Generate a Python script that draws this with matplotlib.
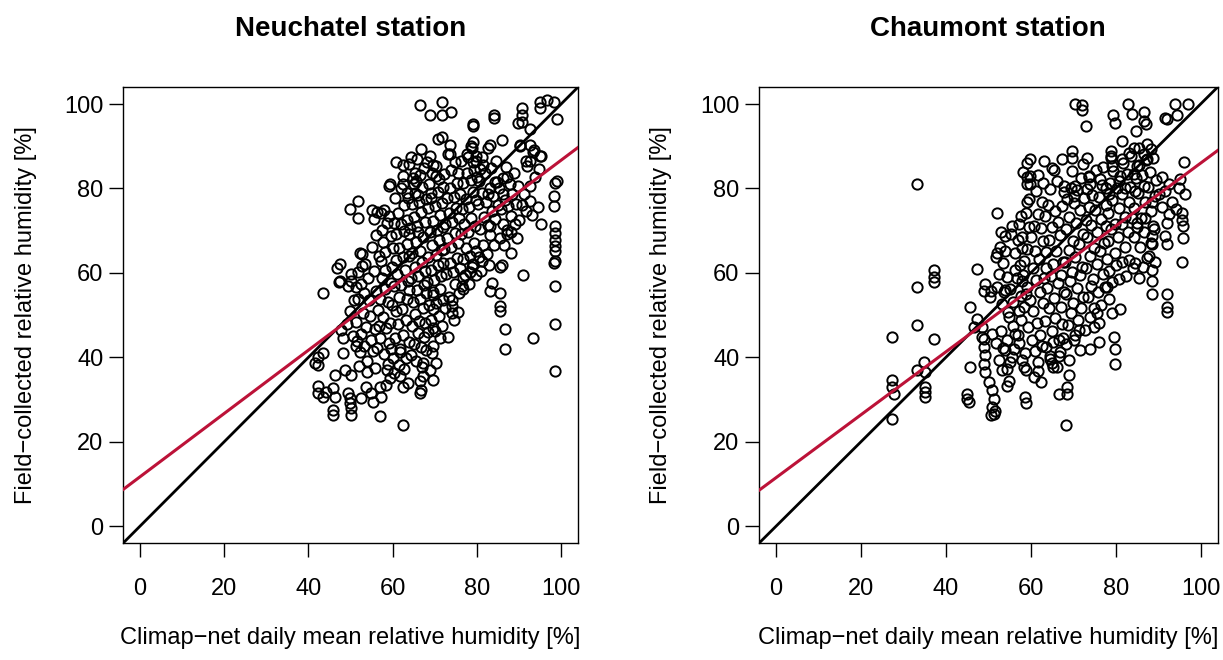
import matplotlib
matplotlib.use("Agg")
import matplotlib.pyplot as plt

plt.rcParams['font.family'] = ['Liberation Sans', 'DejaVu Sans']

# Neuchatel station: (Climap-net daily mean RH, field-collected RH)
neu_points = [
    (66.6, 99.8), (71.6, 100.5), (68.8, 97.5), (71.6, 97.3), (73.8, 98.2), (84.0, 97.4), (84.0, 96.6),
    (79.1, 95.3), (90.6, 99.0), (90.6, 97.3), (90.6, 95.7), (95.0, 100.5), (96.6, 100.9), (98.2, 100.5),
    (95.0, 99.0), (99.0, 96.5), (92.6, 94.0), (79.0, 94.7), (89.7, 95.5),
    (71.6, 92.1), (73.6, 90.2), (73.6, 88.2), (79.1, 91.0), (83.1, 90.2), (85.9, 91.4), (79.9, 87.8),
    (79.1, 86.2), (81.1, 87.4), (90.2, 90.2), (92.6, 90.2), (93.4, 88.6), (95.0, 87.8), (92.6, 86.6),
    (91.8, 85.4), (70.8, 91.7), (66.8, 89.4), (68.8, 87.8), (64.4, 87.4), (60.9, 86.2), (62.5, 85.5),
    (64.0, 85.8), (67.5, 84.8), (69.5, 85.5), (70.4, 83.0), (62.4, 83.0), (65.5, 81.8), (59.3, 81.1),
    (62.4, 81.0), (63.5, 79.0), (66.0, 78.5), (69.0, 79.0), (51.7, 77.1), (49.8, 75.1), (51.7, 73.1),
    (55.0, 75.0), (57.9, 75.0), (59.1, 80.6), (65.0, 81.1), (65.4, 83.6),
    (82.6, 78.6), (84.4, 81.6), (87.1, 82.6), (86.2, 78.6), (80.8, 84.6), (79.9, 86.6), (77.6, 88.1),
    (78.5, 90.0), (82.6, 89.6),
    (94.8, 84.6), (93.9, 82.6), (92.6, 80.6), (91.2, 78.6), (92.6, 77.1), (90.8, 76.1), (94.4, 75.6),
    (93.0, 73.6), (91.7, 74.6), (89.9, 72.6), (95.3, 71.6), (88.0, 69.7), (87.1, 70.1), (83.1, 71.1),
    (90.3, 90.0), (93.5, 89.0), (91.7, 86.6), (95.3, 87.6),
    (99.0, 81.8), (98.5, 81.2), (98.2, 78.3), (98.2, 75.8), (98.6, 71.1), (98.6, 69.5), (98.6, 67.9),
    (98.6, 66.4), (98.6, 65.2), (98.6, 62.9), (98.2, 62.3), (98.6, 56.9), (98.6, 47.8), (98.6, 36.7),
    (91.0, 59.5), (93.3, 44.6), (85.9, 61.8), (85.5, 61.3), (83.5, 57.7), (83.1, 55.7), (85.5, 55.3),
    (85.5, 52.1), (85.5, 51.0), (86.7, 46.8), (86.7, 42.0), (81.1, 62.9), (79.1, 62.1), (78.3, 60.1),
    (76.7, 58.9), (76.7, 56.1), (74.0, 53.7), (74.0, 50.6), (71.2, 44.6), (73.2, 44.9), (69.6, 47.0),
    (69.6, 42.6), (69.4, 41.0), (69.6, 51.4), (69.6, 55.4),
    (47.4, 62.1), (43.4, 55.3), (47.4, 58.1), (50.2, 59.7), (51.7, 60.1), (49.4, 56.9), (52.5, 57.3),
    (53.3, 55.3), (49.8, 51.0), (47.8, 46.6), (48.2, 44.6), (42.2, 40.2), (43.4, 41.0), (41.6, 38.7),
    (42.4, 38.3), (48.2, 41.0), (46.2, 35.9), (48.6, 37.1), (50.2, 35.9), (52.1, 37.9), (42.2, 33.2),
    (42.2, 31.5), (44.2, 31.9), (43.4, 30.7), (45.8, 32.7), (46.2, 30.7), (49.4, 31.5), (49.8, 30.3),
    (49.8, 29.1), (50.2, 28.0), (45.8, 27.5), (45.8, 26.4), (50.2, 26.4), (52.5, 30.3), (54.9, 31.5),
    (55.3, 29.5), (53.7, 33.1), (56.9, 26.0), (62.4, 24.0), (57.3, 30.7), (56.9, 33.1), (58.5, 33.5),
    (59.3, 35.1), (61.7, 35.5), (62.4, 33.1), (63.6, 33.9), (66.4, 34.3), (66.8, 32.3), (66.4, 31.5),
    (67.2, 35.5), (68.8, 37.1), (69.6, 34.7), (70.4, 38.7),
    (46.8, 61.2), (47.3, 57.9), (52.3, 64.7), (52.7, 61.7), (50.0, 58.2), (51.4, 56.7), (50.5, 45.0),
    (51.4, 42.8), (49.2, 48.0), (50.8, 53.5),
    # dense core
    (52.8, 64.5), (53.5, 62.0), (54.2, 58.8), (52.9, 50.5), (53.6, 47.2), (54.8, 44.2), (55.3, 41.5),
    (53.2, 42.8), (54.5, 53.6), (55.6, 60.5), (55.1, 66.2), (56.0, 68.9), (55.5, 72.8), (56.2, 74.4),
    (54.0, 39.2), (55.8, 37.6), (53.9, 36.5), (52.4, 45.5), (51.5, 43.8), (51.2, 48.3), (51.8, 53.8),
    (52.2, 41.2), (54.7, 49.9), (55.9, 46.8), (56.1, 55.7), (56.6, 51.3), (57.2, 62.8), (57.0, 44.5),
    (57.5, 70.1), (57.8, 67.4), (58.2, 64.9), (58.6, 71.8), (59.1, 73.5), (57.4, 58.9), (58.1, 56.2),
    (58.9, 53.1), (57.7, 49.6), (58.4, 46.9), (59.2, 43.3), (57.9, 40.8), (58.8, 38.5), (59.6, 41.9),
    (59.4, 48.2), (59.8, 52.5), (59.5, 57.6), (59.9, 61.4), (60.2, 65.8), (59.7, 68.7), (58.3, 60.8),
    (57.1, 53.9), (56.8, 47.5), (58.6, 36.9), (60.3, 36.2), (60.1, 39.8), (56.4, 42.2), (56.7, 64.1),
    (57.3, 74.2),
    (60.6, 44.6), (61.2, 47.8), (61.8, 42.1), (62.5, 45.3), (63.1, 48.9), (60.8, 50.9), (61.5, 54.2),
    (62.2, 51.4), (63.4, 53.8), (60.4, 56.8), (61.1, 59.7), (62.0, 57.2), (62.9, 60.6), (63.6, 58.1),
    (60.7, 63.1), (61.6, 65.9), (62.4, 63.7), (63.3, 66.8), (63.9, 64.1), (60.9, 69.2), (61.9, 71.5),
    (62.7, 69.9), (63.5, 72.6), (61.3, 74.3), (62.8, 76.1), (63.7, 77.8), (60.5, 77.7), (62.1, 80.2),
    (61.4, 38.1), (63.2, 39.9), (62.6, 37.2), (63.8, 43.7), (61.7, 41.3), (64.0, 56.0), (63.9, 69.3),
    (60.3, 71.9),
    (64.3, 40.5), (65.1, 43.2), (66.0, 45.7), (66.8, 42.4), (67.5, 44.9), (64.6, 47.5), (65.4, 50.3),
    (66.3, 48.6), (67.1, 51.7), (67.8, 48.1), (64.9, 53.2), (65.7, 55.9), (66.6, 53.9), (67.4, 57.1),
    (64.4, 58.8), (65.2, 61.5), (66.1, 59.3), (66.9, 62.7), (67.7, 60.4), (64.7, 64.6), (65.6, 67.3),
    (66.4, 65.1), (67.2, 68.6), (64.2, 70.7), (65.0, 73.2), (65.9, 71.1), (66.7, 74.4), (67.6, 72.0),
    (64.5, 76.3), (65.3, 78.9), (66.2, 76.9), (67.0, 80.3), (67.9, 77.5), (64.8, 82.4), (66.5, 83.1),
    (65.8, 86.9), (66.9, 37.7), (65.5, 39.1), (67.3, 38.6), (68.0, 41.8), (67.9, 55.2), (66.0, 69.7),
    (68.4, 45.9), (69.2, 48.8), (70.1, 46.2), (70.9, 49.9), (71.7, 47.4), (68.7, 52.4), (69.5, 54.8),
    (70.4, 52.9), (71.2, 56.3), (71.9, 53.6), (68.2, 57.9), (69.0, 60.6), (69.9, 58.4), (70.7, 61.9),
    (71.5, 59.2), (68.5, 63.7), (69.3, 66.5), (70.2, 64.3), (71.0, 67.7), (71.8, 65.4), (68.8, 69.6),
    (69.7, 72.4), (70.5, 70.2), (71.3, 73.7), (68.3, 75.4), (69.1, 77.8), (70.0, 75.9), (70.8, 79.2),
    (71.6, 76.6), (68.6, 81.1), (69.4, 83.6), (71.1, 82.2), (70.3, 85.4), (71.9, 80.3), (68.1, 86.3),
    (72.0, 62.3), (72.0, 70.9),
    (72.4, 51.7), (73.3, 54.4), (74.1, 52.1), (74.9, 57.3), (75.7, 55.2), (72.7, 59.8), (73.5, 62.4),
    (74.4, 60.2), (75.2, 63.6), (75.9, 61.1), (72.2, 65.7), (73.0, 68.3), (73.8, 66.1), (74.7, 69.4),
    (75.5, 67.2), (72.5, 71.6), (73.4, 74.2), (74.2, 72.0), (75.0, 75.4), (75.8, 73.1), (72.8, 77.7),
    (73.6, 80.1), (74.5, 78.0), (75.3, 81.3), (72.3, 83.5), (73.9, 84.4), (74.8, 86.2), (75.6, 83.7),
    (73.1, 88.1), (76.0, 78.8), (74.6, 48.9), (75.4, 50.8),
    (76.4, 56.8), (77.2, 59.5), (78.1, 57.4), (78.9, 61.3), (79.7, 59.6), (76.7, 63.2), (77.5, 65.8),
    (78.4, 63.9), (79.2, 67.2), (79.9, 65.1), (76.2, 69.1), (77.0, 71.7), (77.9, 69.8), (78.7, 73.1),
    (79.5, 71.2), (76.5, 75.2), (77.3, 77.6), (78.2, 75.7), (79.0, 79.1), (79.8, 77.3), (76.8, 81.2),
    (77.7, 83.6), (78.5, 81.9), (79.4, 84.3), (76.3, 86.4), (77.8, 87.5), (78.8, 89.7), (80.0, 82.8),
    (80.5, 63.8), (81.4, 66.7), (82.3, 64.4), (83.2, 68.9), (84.1, 66.5), (80.8, 70.5), (81.7, 73.2),
    (82.6, 71.3), (83.5, 74.6), (84.4, 72.8), (80.3, 76.4), (81.2, 78.9), (82.1, 76.8), (83.0, 80.1),
    (83.9, 78.3), (84.8, 81.5), (80.6, 81.8), (81.9, 83.7), (83.4, 84.9), (84.6, 86.5), (80.9, 60.4),
    (82.8, 61.9), (84.9, 76.2), (81.5, 85.6),
    (85.4, 68.2), (86.3, 71.5), (87.2, 69.1), (88.1, 73.4), (89.0, 71.7), (85.7, 75.1), (86.6, 77.3),
    (87.5, 75.8), (88.4, 78.7), (89.3, 76.4), (85.2, 80.2), (86.1, 82.4), (87.9, 81.1), (88.8, 83.6),
    (89.7, 80.7), (86.9, 85.2), (88.2, 64.8), (86.4, 66.7), (89.5, 68.3),
]

# Chaumont station
cha_points = [
    (33.2, 81.0), (33.2, 56.6), (33.2, 47.6), (37.2, 60.6), (37.2, 59.0), (37.2, 57.8), (37.2, 44.4),
    (27.4, 44.8), (27.4, 34.6), (27.4, 33.0), (27.8, 31.4), (27.4, 25.5), (33.2, 37.0), (34.8, 38.9),
    (35.2, 36.6), (35.2, 33.0), (35.2, 31.8), (35.2, 30.6), (47.4, 61.0), (45.8, 51.9), (47.4, 49.2),
    (46.6, 47.2), (45.8, 37.7), (45.0, 31.4), (45.0, 30.2), (45.4, 29.4), (52.1, 74.3), (48.9, 55.7),
    (50.7, 55.7), (48.9, 44.3),
    (48.5, 47.2), (48.5, 44.8), (48.9, 42.5), (49.3, 40.5), (48.9, 38.5), (49.3, 36.5), (50.1, 34.2),
    (50.9, 32.2), (51.3, 30.2), (50.9, 28.3), (51.3, 26.7), (50.6, 26.3), (51.6, 27.4),
    (50.9, 45.6), (51.7, 43.3), (52.5, 39.3), (53.2, 37.0), (54.0, 41.7), (54.4, 44.0), (56.4, 45.6),
    (57.2, 43.3), (55.6, 40.1), (58.0, 39.3), (58.8, 37.0), (58.6, 30.6), (58.8, 29.1), (54.8, 34.3),
    (54.3, 33.3), (54.3, 37.3),
    (51.7, 63.7), (52.5, 59.8), (54.0, 55.9), (53.2, 52.7), (56.4, 60.6), (58.0, 58.2), (54.8, 49.5),
    (57.2, 51.1), (58.8, 55.1), (52.1, 56.6), (50.5, 54.3), (49.3, 57.4),
    (59.1, 86.1), (59.1, 82.6), (59.1, 81.0), (59.1, 76.7), (57.6, 73.5), (55.6, 71.2), (52.9, 69.6),
    (54.0, 68.8), (52.1, 64.8), (54.0, 65.2), (58.0, 68.4), (58.0, 66.0),
    (70.3, 100.0), (72.1, 99.7), (72.1, 98.5), (73.0, 94.7), (79.4, 97.5), (79.8, 95.5), (83.0, 100.0),
    (83.9, 97.7), (86.6, 98.0), (86.6, 96.0), (87.1, 95.2), (84.8, 93.5), (91.6, 96.7), (92.1, 96.5),
    (93.9, 100.0), (94.4, 97.3), (97.1, 100.0),
    (81.5, 91.3), (84.2, 89.7), (83.1, 88.5), (85.4, 89.7), (87.4, 90.5), (88.2, 89.3), (86.6, 88.1),
    (87.4, 86.9), (85.0, 85.3), (81.5, 86.9), (78.8, 88.9), (78.8, 87.3), (79.1, 85.3), (73.3, 87.3),
    (69.7, 88.9), (69.7, 87.3), (67.4, 86.9), (59.9, 87.0), (63.1, 86.5), (65.0, 84.9), (59.9, 83.0),
    (59.9, 81.0), (67.8, 80.6), (70.5, 80.6), (70.1, 78.3), (73.6, 83.0), (74.0, 81.0), (73.3, 79.8),
    (76.4, 82.2), (77.6, 80.2), (78.4, 78.6), (80.7, 81.8), (84.2, 83.4), (82.3, 80.2), (84.6, 79.4),
    (86.6, 80.6),
    (96.2, 86.3), (95.2, 82.2), (94.8, 80.2), (96.4, 78.6), (90.9, 82.6), (92.5, 81.0), (91.7, 79.4),
    (90.1, 78.6), (88.5, 76.7), (90.9, 75.5), (93.3, 76.7), (94.1, 75.1), (92.5, 73.9), (92.1, 71.9),
    (95.5, 72.6), (95.9, 71.1), (95.9, 68.2), (91.7, 68.8), (92.1, 66.8), (88.5, 68.8), (88.5, 66.8),
    (88.9, 71.2), (85.0, 70.8), (87.0, 73.1), (95.7, 62.5), (95.5, 74.1),
    (87.8, 64.1), (89.2, 62.6), (88.5, 60.6), (88.5, 58.2), (88.5, 55.1), (92.1, 55.1), (92.1, 51.9),
    (92.1, 50.7),
    (81.1, 51.5), (79.1, 50.4), (79.5, 44.8), (79.9, 42.1), (79.9, 38.5), (76.0, 43.6), (74.0, 42.1),
    (71.7, 41.7), (68.9, 35.8), (68.5, 33.0), (68.5, 31.4), (66.6, 31.4), (68.2, 23.9), (62.3, 34.2),
    (60.7, 35.4), (58.4, 37.7), (68.9, 39.3), (66.6, 40.4), (65.0, 38.6), (64.6, 40.4), (74.8, 47.2),
    (71.3, 46.4), (70.1, 44.0), (74.0, 49.5), (75.6, 50.4), (78.0, 56.6), (61.6, 36.8), (65.3, 37.8),
    # dense core
    (52.8, 66.2), (53.5, 62.4), (54.3, 59.1), (55.1, 56.3), (55.9, 53.2), (56.7, 58.7), (57.5, 61.9),
    (56.2, 64.6), (57.1, 67.8), (55.4, 69.3), (53.8, 55.5), (54.6, 50.8), (55.7, 47.5), (56.9, 45.2),
    (57.6, 48.9), (53.1, 46.3), (56.1, 42.1), (57.8, 54.6), (55.2, 38.8), (53.4, 42.2), (57.3, 71.5),
    (58.5, 62.8), (59.2, 65.7), (60.0, 68.4), (60.8, 71.2), (61.6, 73.9), (62.4, 70.6), (58.9, 74.1),
    (59.7, 77.5), (61.2, 79.3), (62.6, 76.8), (58.2, 59.4), (59.0, 56.6), (59.8, 53.7), (60.6, 50.9),
    (61.4, 48.1), (62.2, 45.4), (59.4, 47.3), (60.2, 44.2), (61.0, 41.6), (61.8, 38.9), (62.6, 42.7),
    (58.7, 41.1), (60.5, 61.1), (61.3, 58.3), (62.1, 55.5), (62.9, 52.8), (60.9, 65.2), (62.0, 63.4),
    (62.8, 67.5), (59.6, 70.8), (58.4, 51.9), (63.0, 58.9), (61.7, 83.3), (62.9, 81.4), (58.1, 83.9),
    (63.3, 73.4), (64.1, 76.2), (64.9, 70.8), (65.7, 74.6), (66.5, 72.1), (67.3, 75.8), (63.6, 64.9),
    (64.4, 67.7), (65.2, 62.2), (66.0, 65.3), (66.8, 68.9), (67.6, 62.7), (63.9, 56.5), (64.7, 59.3),
    (65.5, 54.1), (66.3, 57.5), (67.1, 51.9), (67.9, 55.6), (63.4, 48.7), (64.2, 51.6), (65.0, 46.3),
    (65.8, 49.4), (66.6, 44.1), (67.4, 47.8), (63.7, 42.5), (64.5, 39.6), (65.3, 43.6), (66.1, 37.8),
    (66.9, 41.2), (67.7, 44.6), (64.6, 79.9), (66.2, 81.7), (67.8, 79.2), (65.4, 84.3), (63.5, 61.1),
    (67.2, 59.4),
    (68.3, 70.4), (69.1, 73.3), (69.9, 67.6), (70.7, 71.9), (71.5, 74.8), (72.3, 69.3), (68.6, 77.4),
    (69.4, 80.2), (70.2, 76.5), (71.0, 79.6), (71.8, 82.4), (72.6, 77.8), (68.1, 62.6), (68.9, 65.5),
    (69.7, 60.3), (70.5, 63.8), (71.3, 66.9), (72.1, 61.5), (68.4, 55.1), (69.2, 58.1), (70.0, 52.8),
    (70.8, 56.4), (71.6, 59.4), (72.4, 54.2), (68.7, 47.6), (69.5, 50.4), (70.3, 45.3), (71.1, 48.8),
    (71.9, 51.7), (72.7, 46.5), (69.8, 84.1), (72.2, 85.7), (68.2, 43.2), (72.9, 72.6),
    (73.3, 68.4), (74.1, 71.3), (74.9, 65.9), (75.7, 69.8), (76.5, 72.7), (77.3, 67.2), (73.6, 75.6),
    (74.4, 78.4), (75.2, 74.9), (76.0, 77.9), (76.8, 80.8), (77.6, 76.1), (73.1, 61.2), (73.9, 63.9),
    (74.7, 58.6), (75.5, 62.1), (76.3, 65.2), (77.1, 59.8), (73.4, 54.3), (74.2, 56.9), (75.0, 51.8),
    (75.8, 55.4), (76.6, 52.4), (77.4, 56.7), (73.8, 82.6), (75.4, 84.3), (77.0, 85.1), (76.1, 48.1),
    (78.0, 63.4), (77.8, 71.2),
    (78.3, 74.1), (79.1, 77.2), (79.9, 71.6), (80.7, 75.3), (81.5, 78.6), (82.3, 73.2), (83.1, 76.7),
    (78.6, 81.4), (79.4, 84.2), (80.2, 80.1), (81.0, 82.9), (81.8, 86.1), (82.6, 83.4), (83.4, 80.3),
    (78.2, 67.5), (79.0, 70.3), (79.8, 64.8), (80.6, 68.4), (81.4, 71.5), (82.2, 66.2), (83.0, 69.6),
    (83.8, 72.9), (78.4, 60.4), (79.2, 57.9), (80.0, 61.8), (80.8, 58.6), (81.6, 62.5), (82.4, 59.3),
    (83.2, 63.1), (78.9, 87.6), (83.7, 87.8), (84.0, 61.2), (78.5, 53.8),
    (84.4, 75.4), (85.2, 78.9), (86.0, 73.1), (86.8, 76.8), (87.6, 80.3), (88.4, 74.7), (89.2, 78.1),
    (84.7, 82.5), (85.5, 85.6), (86.3, 83.2), (87.1, 86.7), (88.0, 83.9), (88.9, 87.1), (84.2, 68.5),
    (85.0, 71.8), (85.8, 66.2), (86.6, 69.7), (87.4, 63.6), (88.2, 67.1), (89.0, 70.4), (84.5, 62.3),
    (85.6, 58.9), (86.4, 61.4), (89.6, 82.1),
]

# fitted (red) lines: intercept, slope
neu_fit = (11.7, 0.75)
cha_fit = (11.5, 0.745)

stations = ['Neuchatel station', 'Chaumont station']
ticks = [0, 20, 40, 60, 80, 100]
xlabel = 'Climap\u2212net daily mean relative humidity [%]'
ylabel = 'Field\u2212collected relative humidity [%]'

fig = plt.figure(figsize=(12.23, 6.6), dpi=100)
ax1 = fig.add_axes([0.1006, 0.177, 0.372, 0.691])
ax2 = fig.add_axes([0.6206, 0.177, 0.375, 0.691])

for ax, title, pts, fit in zip([ax1, ax2], stations, [neu_points, cha_points], [neu_fit, cha_fit]):
    xs = [p[0] for p in pts]
    ys = [p[1] for p in pts]
    ax.plot(xs, ys, 'o', ms=7.4, mfc='none', mec='black', mew=1.4, zorder=2)
    ax.axline((0, 0), slope=1, color='black', lw=2.0, zorder=3)
    ax.axline((0, fit[0]), slope=fit[1], color='#BC1238', lw=2.2, zorder=4)

    ax.set_xlim(-4, 104)
    ax.set_ylim(-4, 104)
    ax.set_xticks(ticks)
    ax.set_yticks(ticks)
    ax.tick_params(axis='both', direction='out', length=10, width=1, labelsize=17)
    ax.tick_params(axis='x', pad=15)
    ax.tick_params(axis='y', pad=4)
    for s in ax.spines.values():
        s.set_linewidth(1.0)

    ax.text(0.5, 1.128, title, transform=ax.transAxes, ha='center', va='center',
            fontsize=20, fontweight='bold')
    ax.text(0.5, -0.208, xlabel, transform=ax.transAxes, ha='center', va='center', fontsize=17)
    ax.text(-0.214, 0.5, ylabel, transform=ax.transAxes, ha='center', va='center',
            rotation=90, fontsize=17)

fig.savefig('out.png', dpi=100)
